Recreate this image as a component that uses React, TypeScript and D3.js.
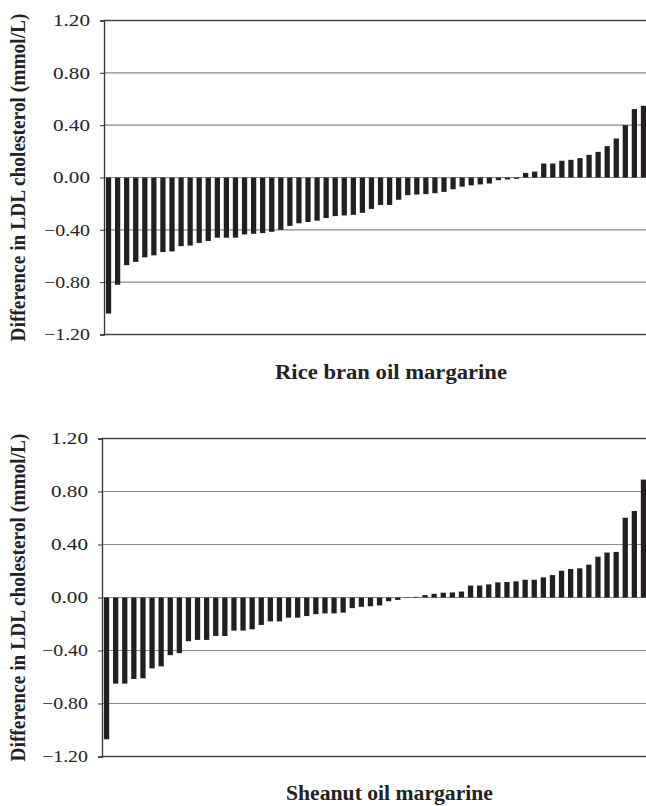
import { useEffect, useRef } from 'react';
import * as d3 from 'd3';

// values, sorted low -> high as in the original
const riceBran = [
  -1.04, -0.82, -0.67, -0.645, -0.61, -0.595, -0.57, -0.565, -0.525, -0.52,
  -0.5, -0.485, -0.46, -0.46, -0.46, -0.435, -0.43, -0.425, -0.415, -0.4,
  -0.37, -0.35, -0.34, -0.33, -0.31, -0.295, -0.29, -0.285, -0.27, -0.24,
  -0.21, -0.21, -0.17, -0.135, -0.13, -0.127, -0.12, -0.11, -0.09, -0.07,
  -0.06, -0.053, -0.046, -0.02, -0.015, -0.01, 0.035, 0.045, 0.107, 0.107,
  0.128, 0.135, 0.148, 0.173, 0.196, 0.24, 0.298, 0.4, 0.523, 0.548
];

const sheanut = [
  -1.07, -0.65, -0.65, -0.615, -0.61, -0.535, -0.52, -0.435, -0.42, -0.33,
  -0.32, -0.32, -0.29, -0.29, -0.25, -0.25, -0.24, -0.207, -0.18, -0.18,
  -0.152, -0.152, -0.14, -0.126, -0.12, -0.12, -0.114, -0.08, -0.07, -0.066,
  -0.06, -0.028, -0.018, -0.003, 0.005, 0.018, 0.028, 0.036, 0.038, 0.045,
  0.09, 0.09, 0.099, 0.114, 0.117, 0.122, 0.134, 0.134, 0.152, 0.169,
  0.202, 0.215, 0.22, 0.248, 0.308, 0.339, 0.344, 0.602, 0.653, 0.89
];

const yTicks = [1.2, 0.8, 0.4, 0, -0.4, -0.8, -1.2];
const yTitle = 'Difference in LDL cholesterol (mmol/L)';

const panels = [
  { name: 'Rice bran oil margarine', values: riceBran, top: 20.5, bottom: 334.5, left: 104, labelY: 379, labelX: 391, labelW: 232 },
  { name: 'Sheanut oil margarine', values: sheanut, top: 438.5, bottom: 756.5, left: 102, labelY: 800, labelX: 389.5, labelW: 207 }
];

const W = 646;
const H = 806;
const FONT = '"Liberation Serif", Tinos, "Times New Roman", Times, serif';

const App = () => {
  const ref = useRef<SVGSVGElement>(null);

  useEffect(() => {
    const svg = d3.select(ref.current);
    svg.selectAll('*').remove();

    panels.forEach(p => {
      const g = svg.append('g');
      const x = d3.scaleBand<number>()
        .domain(d3.range(p.values.length))
        .range([p.left, 648])
        .paddingInner(0.42)
        .paddingOuter(0.21);
      const y = d3.scaleLinear().domain([-1.2, 1.2]).range([p.bottom, p.top]);

      // gridlines
      g.selectAll('line.grid')
        .data(yTicks.filter(t => Math.abs(t) < 1.2))
        .enter()
        .append('line')
        .attr('x1', p.left)
        .attr('x2', W)
        .attr('y1', d => y(d))
        .attr('y2', d => y(d))
        .attr('stroke', '#8a8a8a')
        .attr('stroke-width', 1.1);

      // bars
      g.selectAll('rect')
        .data(p.values)
        .enter()
        .append('rect')
        .attr('x', (_, i) => x(i)!)
        .attr('width', x.bandwidth())
        .attr('y', d => y(Math.max(0, d)))
        .attr('height', d => Math.abs(y(d) - y(0)))
        .attr('fill', '#231f20');

      // frame: top, bottom, left
      [p.top, p.bottom].forEach(yy => {
        g.append('line')
          .attr('x1', p.left).attr('x2', W)
          .attr('y1', yy).attr('y2', yy)
          .attr('stroke', '#444').attr('stroke-width', 1.3);
      });

      const axis = d3.axisLeft(y)
        .tickValues(yTicks)
        .tickSize(4)
        .tickPadding(10)
        .tickFormat(d => d3.format('.2f')(d as number).replace('-', '\u2212'));

      const ag = g.append('g')
        .attr('transform', `translate(${p.left},0)`)
        .call(axis);
      ag.attr('font-family', null).attr('font-size', null);
      ag.select('.domain').attr('stroke', '#333').attr('stroke-width', 1.3);
      ag.selectAll('.tick line').attr('stroke', '#333');
      ag.selectAll('.tick text')
        .style('font-family', FONT)
        .style('font-size', '17px')
        .attr('fill', '#222')
        .attr('textLength', d => ((d as number) < 0 ? 46 : 37))
        .attr('lengthAdjust', 'spacingAndGlyphs');

      // y title
      const cy = (p.top + p.bottom) / 2;
      g.append('text')
        .attr('transform', `translate(25,${cy}) rotate(-90)`)
        .attr('text-anchor', 'middle')
        .style('font-family', FONT)
        .style('font-weight', 'bold')
        .style('font-size', '20px')
        .attr('fill', '#222')
        .attr('textLength', 328)
        .attr('lengthAdjust', 'spacingAndGlyphs')
        .text(yTitle);

      // x label
      g.append('text')
        .attr('x', p.labelX)
        .attr('y', p.labelY)
        .attr('text-anchor', 'middle')
        .style('font-family', FONT)
        .style('font-weight', 'bold')
        .style('font-size', '20px')
        .attr('fill', '#222')
        .attr('textLength', p.labelW)
        .attr('lengthAdjust', 'spacingAndGlyphs')
        .text(p.name);
    });
  }, []);

  return (
    <svg
      ref={ref}
      width={W}
      height={H}
      style={{ position: 'absolute', left: 0, top: 0, background: 'white' }}
    />
  );
};

export default App;
